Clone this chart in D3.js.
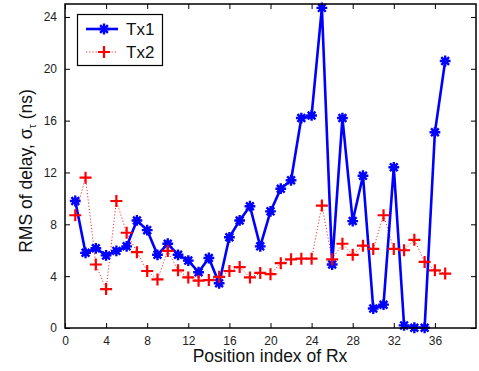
<!DOCTYPE html>
<html>
<head>
<meta charset="utf-8">
<title>RMS delay</title>
<script src="https://cdn.jsdelivr.net/npm/d3@7"></script>
<style>
  body { margin: 0; background: #fff; }
  svg text { font-family: "Liberation Sans", Arial, sans-serif; }
</style>
</head>
<body>
<script>
// position index of Rx
var positions = d3.range(1, 38);
// RMS delay spread (ns)
var tx1 = [9.8, 5.8, 6.15, 5.6, 5.95, 6.3, 8.3, 7.55, 5.65, 6.5, 5.65, 5.2, 4.3, 5.4, 3.45,
           7.0, 8.3, 9.4, 6.3, 9.0, 10.75, 11.4, 16.2, 16.4, 24.7, 4.9, 16.2, 8.25, 11.75,
           1.5, 1.8, 12.4, 0.2, 0.02, 0.02, 15.1, 20.6];
var tx2 = [8.7, 11.6, 4.9, 3.0, 9.8, 7.35, 5.85, 4.4, 3.75, 5.95, 4.45, 3.9, 3.65, 3.7, 3.95,
           4.4, 4.7, 3.9, 4.25, 4.15, 5.0, 5.3, 5.35, 5.35, 9.45, 5.3, 6.5, 5.65, 6.35,
           6.1, 8.7, 6.1, 6.0, 6.8, 5.1, 4.45, 4.2];
var xTicks = d3.range(0, 37, 4);
var yTicks = d3.range(0, 25, 4);

var width = 479, height = 371;
var margin = { left: 65, right: 3, top: 4, bottom: 43 };

var svg = d3.select("body").append("svg")
    .attr("width", width)
    .attr("height", height);

var x = d3.scaleLinear().domain([0, 40]).range([margin.left, width - margin.right]);
var y = d3.scaleLinear().domain([0, 25]).range([height - margin.bottom, margin.top]);

// axes (ticks point inward, box on all sides)
svg.append("g")
    .attr("transform", "translate(0," + y(0) + ")")
    .call(d3.axisBottom(x).tickValues(xTicks).tickSizeInner(-5).tickSizeOuter(0).tickPadding(8))
    .call(function (g) { g.select(".domain").remove(); });
svg.append("g")
    .attr("transform", "translate(" + x(0) + ",0)")
    .call(d3.axisLeft(y).tickValues(yTicks).tickSizeInner(-5).tickSizeOuter(0).tickPadding(8))
    .call(function (g) { g.select(".domain").remove(); });
svg.append("g")
    .attr("transform", "translate(0," + y(25) + ")")
    .call(d3.axisTop(x).tickValues(xTicks).tickSizeInner(-5).tickSizeOuter(0).tickFormat(""))
    .call(function (g) { g.select(".domain").remove(); });
svg.append("g")
    .attr("transform", "translate(" + x(40) + ",0)")
    .call(d3.axisRight(y).tickValues(yTicks).tickSizeInner(-5).tickSizeOuter(0).tickFormat(""))
    .call(function (g) { g.select(".domain").remove(); });

svg.selectAll(".tick text").attr("font-size", 12).attr("fill", "#222")
    .style("font-family", "'Liberation Sans', Arial, sans-serif");
svg.selectAll(".tick line").attr("stroke", "#000").attr("stroke-width", 1);

// Tx2 dotted line
var line = d3.line()
    .x(function (d, i) { return x(positions[i]); })
    .y(function (d) { return y(d); });

svg.append("path")
    .datum(tx2)
    .attr("fill", "none")
    .attr("stroke", "#ff3030")
    .attr("stroke-width", 1)
    .attr("stroke-dasharray", "1.2,2")
    .attr("d", line);

// Tx1 solid line
svg.append("path")
    .datum(tx1)
    .attr("fill", "none")
    .attr("stroke", "#0000ff")
    .attr("stroke-width", 2.6)
    .attr("d", line);

// asterisk marker
function star(g, cx, cy, r) {
    var a = r * 0.72;
    g.append("path")
        .attr("d", "M" + (cx - r) + "," + cy + "h" + 2 * r +
                   "M" + cx + "," + (cy - r) + "v" + 2 * r +
                   "M" + (cx - a) + "," + (cy - a) + "l" + 2 * a + "," + 2 * a +
                   "M" + (cx - a) + "," + (cy + a) + "l" + 2 * a + "," + (-2 * a))
        .attr("stroke", "#0000ff")
        .attr("stroke-width", 2.4)
        .attr("fill", "none");
    g.append("circle").attr("cx", cx).attr("cy", cy).attr("r", r * 0.6).attr("fill", "#0000ff");
}
function plus(g, cx, cy, r) {
    g.append("path")
        .attr("d", "M" + (cx - r) + "," + cy + "h" + 2 * r + "M" + cx + "," + (cy - r) + "v" + 2 * r)
        .attr("stroke", "#ff0000")
        .attr("stroke-width", 2.2)
        .attr("fill", "none");
}

var m1 = svg.append("g");
tx1.forEach(function (d, i) { star(m1, x(positions[i]), y(d), 5.4); });
var m2 = svg.append("g");
tx2.forEach(function (d, i) { plus(m2, x(positions[i]), y(d), 6); });

// box
svg.append("rect")
    .attr("x", x(0)).attr("y", y(25))
    .attr("width", x(40) - x(0)).attr("height", y(0) - y(25))
    .attr("fill", "none").attr("stroke", "#000").attr("stroke-width", 1.5);

// axis labels
svg.append("text")
    .attr("x", 270)
    .attr("y", 362)
    .attr("text-anchor", "middle")
    .attr("font-size", 17.5)
    .attr("fill", "#111")
    .text("Position index of Rx");

var yl = svg.append("text")
    .attr("transform", "translate(32,171) rotate(-90)")
    .attr("text-anchor", "middle")
    .attr("font-size", 17.5)
    .attr("fill", "#111");
yl.append("tspan").text("RMS of delay, \u03C3");
yl.append("tspan").attr("font-size", 11).attr("dy", 4).text("\u03C4");
yl.append("tspan").attr("dy", -4).text(" (ns)");

// legend
var lg = svg.append("g");
lg.append("rect")
    .attr("x", 77.5).attr("y", 14.5).attr("width", 85).attr("height", 51)
    .attr("fill", "#fff").attr("stroke", "#000").attr("stroke-width", 1.2);
lg.append("line").attr("x1", 86).attr("x2", 118).attr("y1", 29).attr("y2", 29)
    .attr("stroke", "#0000ff").attr("stroke-width", 2.6);
star(lg, 104, 29, 5.4);
lg.append("line").attr("x1", 86).attr("x2", 118).attr("y1", 52).attr("y2", 52)
    .attr("stroke", "#ff3030").attr("stroke-width", 1).attr("stroke-dasharray", "1.2,2");
plus(lg, 104, 52, 6);
lg.append("text").attr("x", 126).attr("y", 35).attr("font-size", 17).attr("fill", "#111").text("Tx1");
lg.append("text").attr("x", 126).attr("y", 58).attr("font-size", 17).attr("fill", "#111").text("Tx2");
</script>
</body>
</html>
